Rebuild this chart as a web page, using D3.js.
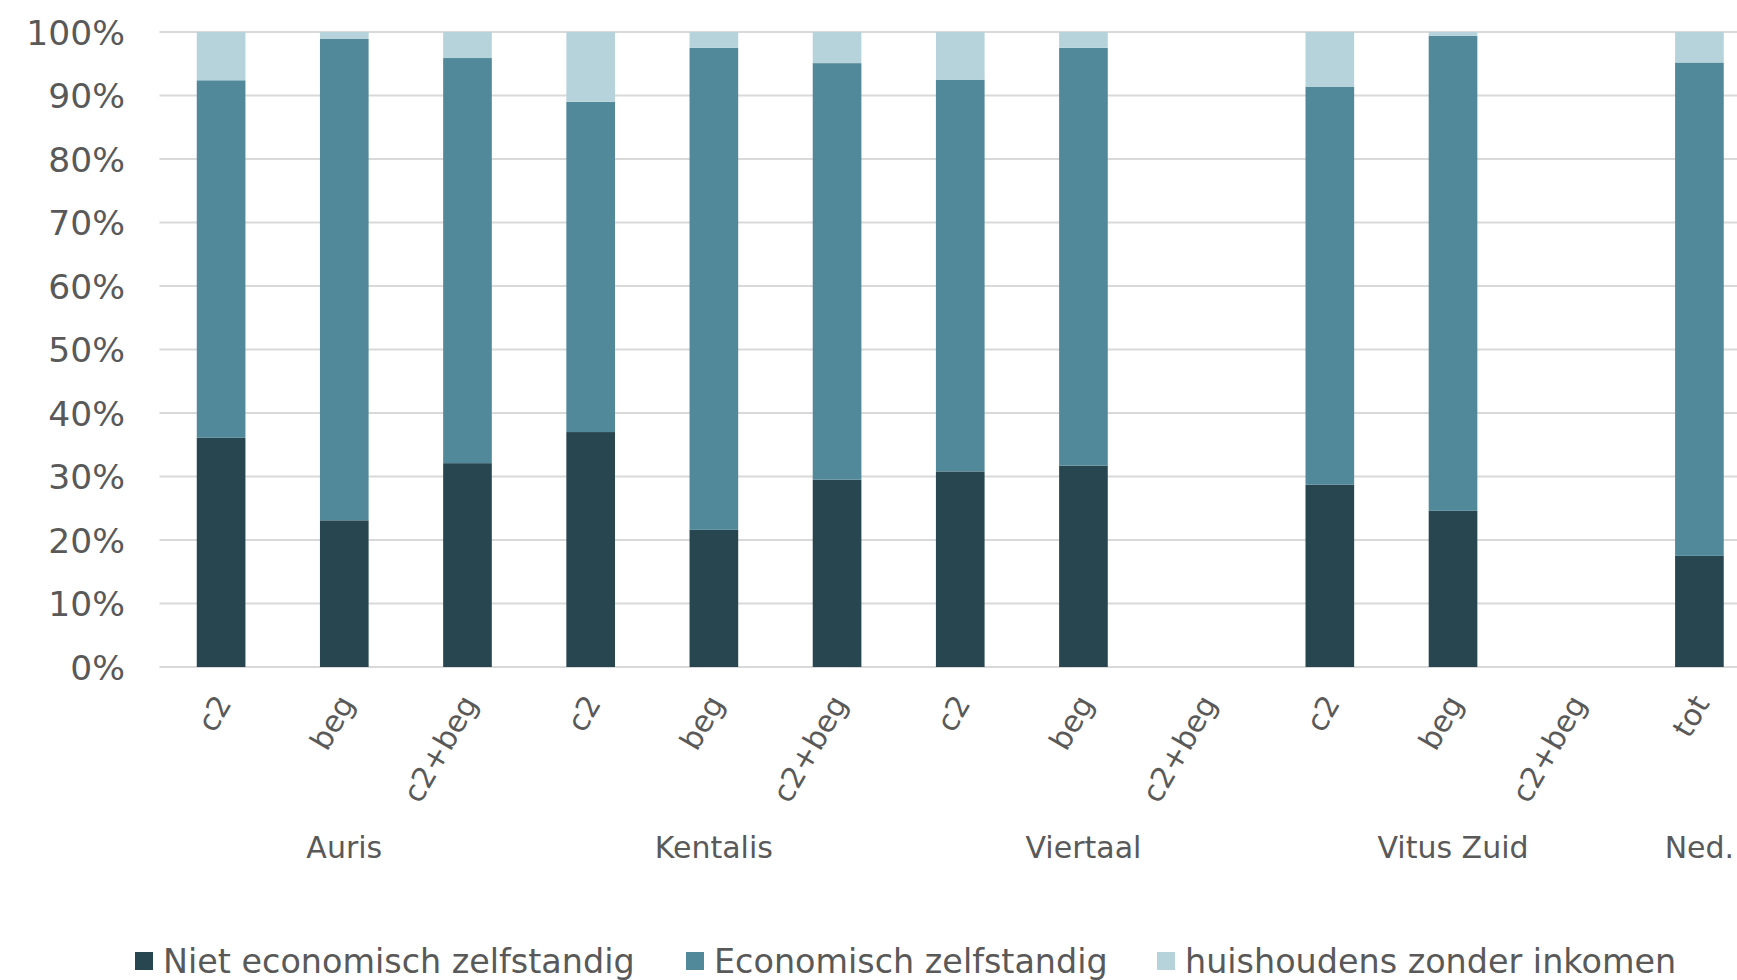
<!DOCTYPE html>
<html>
<head>
<meta charset="utf-8">
<script src="https://cdn.jsdelivr.net/npm/d3@7"></script>
<style>
  html, body { margin: 0; padding: 0; background: #fff; overflow: hidden; }
  svg { display: block; font-family: "DejaVu Sans", Verdana, sans-serif; }
</style>
</head>
<body>
<svg id="chart" width="1737" height="980"></svg>
<script>
// ---- data ----
const subLabels = ["c2", "beg", "c2+beg", "c2", "beg", "c2+beg", "c2", "beg", "c2+beg", "c2", "beg", "c2+beg", "tot"];
const groupNames = ["Auris", "Kentalis", "Viertaal", "Vitus Zuid", "Ned."];
const groupSizes = [3, 3, 3, 3, 1];
const seriesNames = ["Niet economisch zelfstandig", "Economisch zelfstandig", "huishoudens zonder inkomen"];
const nietZelfstandig = [36.1, 23.1, 32.1, 37.0, 21.6, 29.5, 30.8, 31.7, null, 28.7, 24.6, null, 17.5];
const welZelfstandig  = [56.3, 75.8, 63.8, 52.0, 75.9, 65.6, 61.7, 65.8, null, 62.7, 74.8, null, 77.7];
const zonderInkomen   = [7.6, 1.1, 4.1, 11.0, 2.5, 4.9, 7.5, 2.5, null, 8.6, 0.6, null, 4.8];
const yTicks = [0, 0.1, 0.2, 0.3, 0.4, 0.5, 0.6, 0.7, 0.8, 0.9, 1.0];
const colors = ["#28464F", "#51899A", "#B6D3DB"];

// ---- layout ----
const svg = d3.select("#chart");
const plot = { left: 159.5, right: 1761, top: 32, bottom: 667 };
const idx = d3.range(subLabels.length);

const x = d3.scaleBand().domain(idx).range([plot.left, plot.right])
  .paddingInner(0.605).paddingOuter(0.3025);
const y = d3.scaleLinear().domain([0, 1]).range([plot.bottom, plot.top]);

// rows for stacking
const rows = idx.map(i => ({
  i,
  niet: (nietZelfstandig[i] || 0) / 100,
  wel: (welZelfstandig[i] || 0) / 100,
  zonder: (zonderInkomen[i] || 0) / 100,
  present: nietZelfstandig[i] !== null
}));
const keys = ["niet", "wel", "zonder"];
const stacked = d3.stack().keys(keys)(rows.filter(r => r.present));

// gridlines
svg.append("g").selectAll("line").data(yTicks).join("line")
  .attr("x1", plot.left).attr("x2", plot.right)
  .attr("y1", d => y(d)).attr("y2", d => y(d))
  .attr("stroke", "#D9D9D9").attr("stroke-width", 2);

// y axis labels
const yAxis = d3.axisLeft(y).tickValues(yTicks).tickFormat(d3.format(".0%")).tickSize(0).tickPadding(0);
const yg = svg.append("g").attr("transform", `translate(125,0)`).call(yAxis);
yg.select(".domain").remove();
yg.selectAll("text").attr("fill", "#595959").style("font-size", "34.5px")
  .style("font-family", "'DejaVu Sans', Verdana, sans-serif").attr("dy", "0.36em");

// bars
svg.append("g").selectAll("g").data(stacked).join("g")
  .attr("fill", (d, k) => colors[k])
  .selectAll("rect").data(d => d).join("rect")
  .attr("x", d => x(d.data.i))
  .attr("width", x.bandwidth())
  .attr("y", d => y(d[1]))
  .attr("height", d => y(d[0]) - y(d[1]));

// rotated category labels
svg.append("g").selectAll("text").data(idx).join("text")
  .attr("transform", i => `translate(${x(i) + x.bandwidth() / 2 + 2},${plot.bottom + 31}) rotate(-60)`)
  .attr("text-anchor", "end")
  .attr("dy", "0.35em")
  .attr("fill", "#595959")
  .style("font-size", "30px")
  .text(i => subLabels[i]);

// group labels
let start = 0;
const groupPos = groupSizes.map((s, g) => {
  const first = start, last = start + s - 1;
  start += s;
  return { name: groupNames[g], cx: (x(first) + x(last) + x.bandwidth()) / 2 };
});
svg.append("g").selectAll("text").data(groupPos).join("text")
  .attr("x", d => d.cx).attr("y", 847.5)
  .attr("text-anchor", "middle").attr("dy", "0.35em")
  .attr("fill", "#595959").style("font-size", "30px")
  .text(d => d.name);

// legend
const legendX = [135, 686, 1157];
const lg = svg.append("g").selectAll("g").data(seriesNames).join("g")
  .attr("transform", (d, k) => `translate(${legendX[k]},961)`);
lg.append("rect").attr("x", 0).attr("y", -9).attr("width", 18).attr("height", 18)
  .attr("fill", (d, k) => colors[k]);
lg.append("text").attr("x", 28).attr("y", 0).attr("dy", "0.35em")
  .attr("fill", "#595959").style("font-size", "33.4px").text(d => d);
</script>
</body>
</html>
